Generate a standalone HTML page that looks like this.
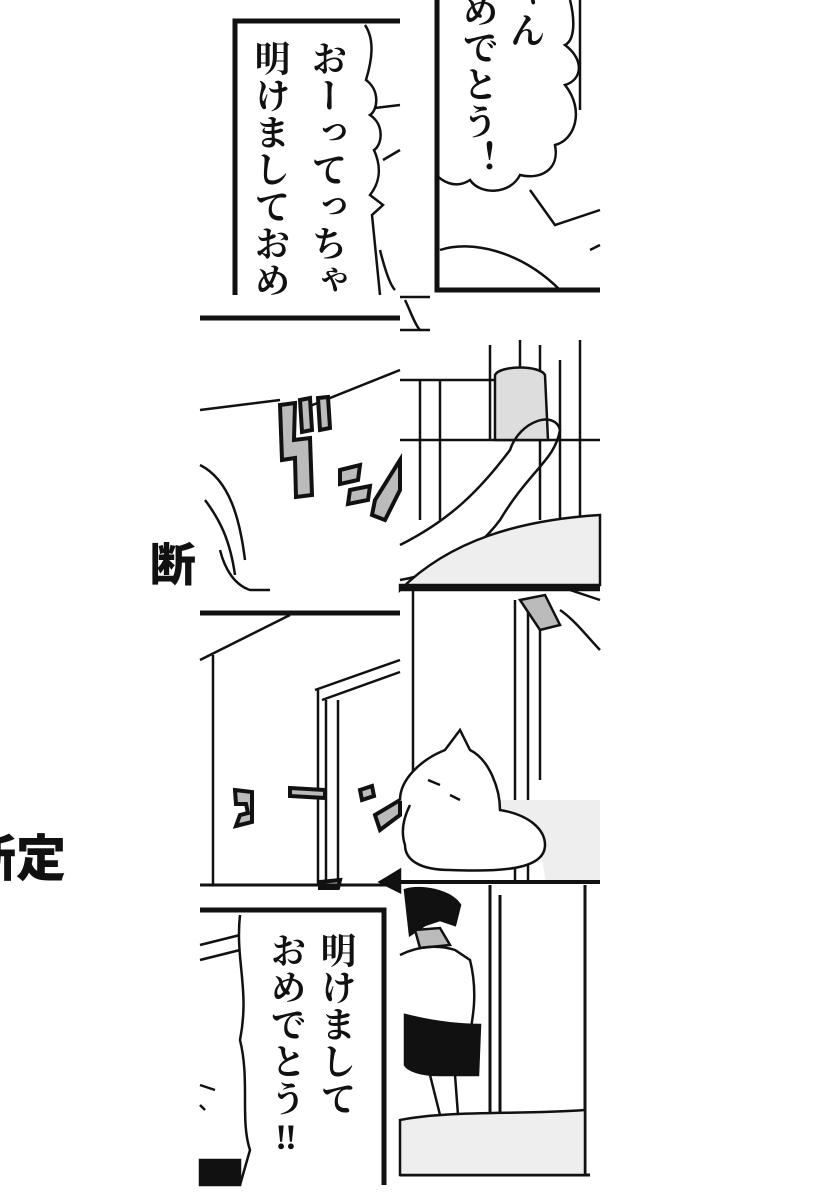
<!DOCTYPE html>
<html><head><meta charset="utf-8"><style>
html,body{margin:0;padding:0;background:#fff;width:820px;height:1200px;overflow:hidden;position:relative}
.v{position:absolute;writing-mode:vertical-rl;font-family:"Liberation Serif","Noto Serif CJK SC",serif;font-weight:700;font-size:36px;line-height:1;color:#111;letter-spacing:1px}
.b{position:absolute;font-family:"Liberation Sans","Noto Sans CJK JP",sans-serif;font-weight:900;font-size:46px;color:#111;line-height:1}
svg{position:absolute;left:0;top:0}
</style></head><body>
<svg width="820" height="1200" viewBox="0 0 820 1200" fill="none" stroke="#111" stroke-width="2.5">
<path d="M235 295 V21 H400" stroke-width="5"/>
<path d="M365 25 C375 40 372 60 366 80 C380 90 378 110 370 115 C385 125 382 145 374 150 C383 170 378 185 370 195 L383 205 L372 215 L380 295"/>
<path d="M375 108 L400 105 M383 160 L400 150 M380 250 C385 270 390 285 395 290"/>
<path d="M437 0 V290 H600" stroke-width="5"/>
<path d="M570 0 C575 20 575 40 565 45 C585 60 582 80 565 85 C585 110 575 140 555 145 C560 170 540 180 520 175 C510 195 480 195 470 180 C455 190 440 180 437 175"/>
<path d="M530 190 L555 225 L600 210 M580 0 V110 M440 250 C470 240 520 250 560 290 M590 250 L600 245"/>
<path d="M400 297 H430 M405 300 C410 310 415 325 420 330"/>
<path d="M200 318 H400" stroke-width="5"/>
<path d="M200 410 L280 400 M300 410 L400 370 M200 465 C230 480 240 520 245 560 M205 500 C220 520 230 540 235 575 M220 550 C225 570 235 585 250 590 H270"/>
<g fill="#bbb" stroke-width="4">
<path d="M280 405 L295 403 L294 440 L310 438 L312 495 L296 497 L295 458 L282 460 Z"/>
<path d="M300 400 L310 398 L312 430 L302 432 Z M318 398 L328 397 L330 428 L320 430 Z"/>
<path d="M340 470 L360 465 L358 480 L340 484 Z M350 490 L370 486 L368 500 L348 504 Z"/>
<path d="M375 500 L400 460 L400 490 L385 520 L372 515 Z"/>
</g>
<path d="M400 330 H430 M400 380 H500 M400 440 H600 M420 380 V520 M440 380 V520 M490 345 V440 M520 340 V440 M540 345 V520 M580 340 V520 M560 360 V520"/>
<path d="M495 375 C500 365 540 365 545 375 L548 440 L495 440 Z" fill="#ddd"/>
<path d="M400 545 C450 520 480 490 510 450 C520 420 555 410 560 430 C555 460 530 470 500 520 C470 560 430 575 400 580"/>
<path d="M400 590 C450 540 520 520 600 515 V585 H400 Z" fill="#eee"/>
<path d="M400 588 H600" stroke-width="4"/>
<path d="M200 613 H400" stroke-width="5"/>
<path d="M200 660 L290 615 M213 655 V885 M315 690 L400 660 M322 700 L400 672 M318 690 V885 M326 700 V885 M338 700 V885"/>
<g fill="#bbb" stroke-width="4">
<path d="M235 790 L252 792 L252 822 L236 826 L240 815 L248 813 L246 804 L236 804 Z"/>
<path d="M290 788 L325 790 L325 798 L290 796 Z"/>
<path d="M360 790 L372 786 L374 796 L362 800 Z M375 815 L400 800 L400 815 L380 830 Z"/>
<path d="M320 882 L340 880 L338 888 L320 888 Z"/>
</g>
<path d="M200 885 H390" stroke-width="3"/>
<path d="M400 590 H600 M413 590 V780 M515 600 V880 M528 610 V880 M540 610 V780"/>
<path d="M520 600 L545 595 L560 625 L540 630 Z" fill="#bbb"/>
<path d="M560 610 C575 620 590 640 600 650 M570 590 L600 600"/>
<path d="M400 800 H600 V880 H545 C545 860 530 815 500 810 Z" fill="#eee" stroke="none"/>
<path d="M400 800 C400 780 420 760 445 750 L460 730 L470 750 C490 760 500 790 500 810 C530 815 545 830 545 845 C545 870 500 872 450 870 C420 870 405 860 405 845 C400 830 405 815 410 805" fill="#fff"/>
<path d="M428 780 L440 785 M450 795 L460 800"/>
<path d="M400 882 H600" stroke-width="4"/>
<path d="M380 882 L400 870 V892 Z" fill="#111"/>
<path d="M200 910 H384 V1185" stroke-width="5"/>
<path d="M200 945 L240 935 M200 960 L240 950 M240 915 C235 960 250 990 240 1040 C250 1080 240 1120 250 1150 L240 1185" />
<path d="M200 1160 H240 V1185 H200 Z" fill="#111"/>
<path d="M200 1085 L215 1090 M200 1105 L205 1110"/>
<path d="M400 1175 H590 M585 885 V1175 M490 885 V1120 M500 895 V1120" stroke-width="3"/>
<path d="M405 890 C420 885 450 890 460 905 L455 925 L440 920 L425 925 L410 935 Z" fill="#111"/>
<path d="M415 930 L440 928 L450 945 L420 948 Z" fill="#bbb"/>
<path d="M400 955 C420 945 440 945 455 950 L470 960 C480 1000 470 1030 465 1060"/>
<path d="M405 1015 C425 1020 450 1025 480 1025 L478 1075 H440 C420 1075 408 1070 405 1065 Z" fill="#111"/>
<path d="M400 1120 C450 1110 520 1115 585 1110 V1175 H400 Z" fill="#eee"/>
<path d="M430 1075 L440 1115 M455 1075 L458 1115"/>
</svg>
<div class="v" style="left:252px;top:40px">明けましておめ</div>
<div class="v" style="left:309px;top:40px">おーってっちゃ</div>
<div class="v" style="left:460px;top:-8px">めでとう！</div>
<div class="v" style="left:507px;top:-25px">ゃん</div>
<div class="v" style="left:318px;top:932px">明けまして</div>
<div class="v" style="left:268px;top:932px">おめでとう‼</div>
<div class="b" style="left:150px;top:542px">断</div>
<div class="b" style="left:-34px;top:834px;font-size:50px">断定</div>
</body></html>
